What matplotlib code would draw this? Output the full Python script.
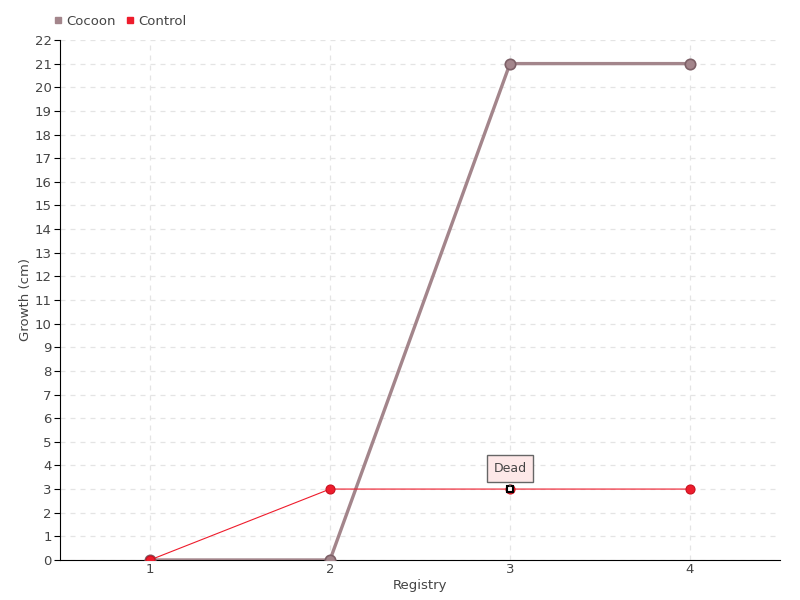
import matplotlib.pyplot as plt
from matplotlib.lines import Line2D

plt.rcParams['font.family'] = ['DejaVu Sans']

registry = [1, 2, 3, 4]
cocoon = [0, 0, 21, 21]
control = [0, 3, 3, 3]
dead_index = 2
y_ticks = list(range(0, 23))

cocoon_color = '#a3858b'
cocoon_edge = '#7d6067'
control_color = '#ee1c2c'
text_color = '#444444'

fig = plt.figure(figsize=(8, 6), dpi=100)
ax = fig.add_axes([0.075, 0.0667, 0.9, 0.8667])

# grid
ax.set_axisbelow(True)
ax.grid(True, color='#e4e4e4', linestyle=(0, (4, 4)), linewidth=0.9)

# series
ax.plot(registry, cocoon, color=cocoon_color, linewidth=2.4, marker='o', markersize=7.5,
        markerfacecolor=cocoon_color, markeredgecolor=cocoon_edge, markeredgewidth=1.2, zorder=3)
ax.plot(registry, control, color=control_color, linewidth=0.8, marker='o', markersize=6.5,
        markerfacecolor=control_color, markeredgecolor='#c8101e', markeredgewidth=0.8, zorder=4)

# dead point
ax.plot(registry[dead_index], control[dead_index], marker='s', markersize=5,
        markerfacecolor='white', markeredgecolor='black', markeredgewidth=1.5, zorder=6)
ax.annotate('Dead', xy=(registry[dead_index], control[dead_index]), xytext=(0, 15),
            textcoords='offset points', ha='center', va='center', fontsize=9, color=text_color,
            bbox=dict(boxstyle='square,pad=0.55', facecolor='#fde8e8', edgecolor='#666666', linewidth=1),
            arrowprops=dict(arrowstyle='-', color='#666666', linewidth=1), zorder=7)

# axes
ax.set_xlim(0.5, 4.5)
ax.set_ylim(0, 22)
ax.set_xticks(registry)
ax.set_yticks(y_ticks)
ax.tick_params(axis='both', colors='black', labelcolor=text_color, labelsize=9.5, length=4, pad=2)
ax.tick_params(axis='x', length=0)
for s in ['top', 'right']:
    ax.spines[s].set_visible(False)
ax.spines['left'].set_color('black')
ax.spines['bottom'].set_color('black')

ax.set_xlabel('Registry', color=text_color, fontsize=9.5, labelpad=2)
ax.set_ylabel('Growth (cm)', color=text_color, fontsize=9.5, labelpad=2)

handles = [Line2D([], [], linestyle='none', marker='s', markersize=5, color=cocoon_color),
           Line2D([], [], linestyle='none', marker='s', markersize=5, color=control_color)]
fig.legend(handles, ['Cocoon', 'Control'], loc='upper left', bbox_to_anchor=(0.05, 0.995),
           ncol=2, frameon=False, fontsize=9.5, handletextpad=0.1, columnspacing=0.6,
           labelcolor=text_color, handlelength=1)

fig.savefig('out.png', dpi=100)
